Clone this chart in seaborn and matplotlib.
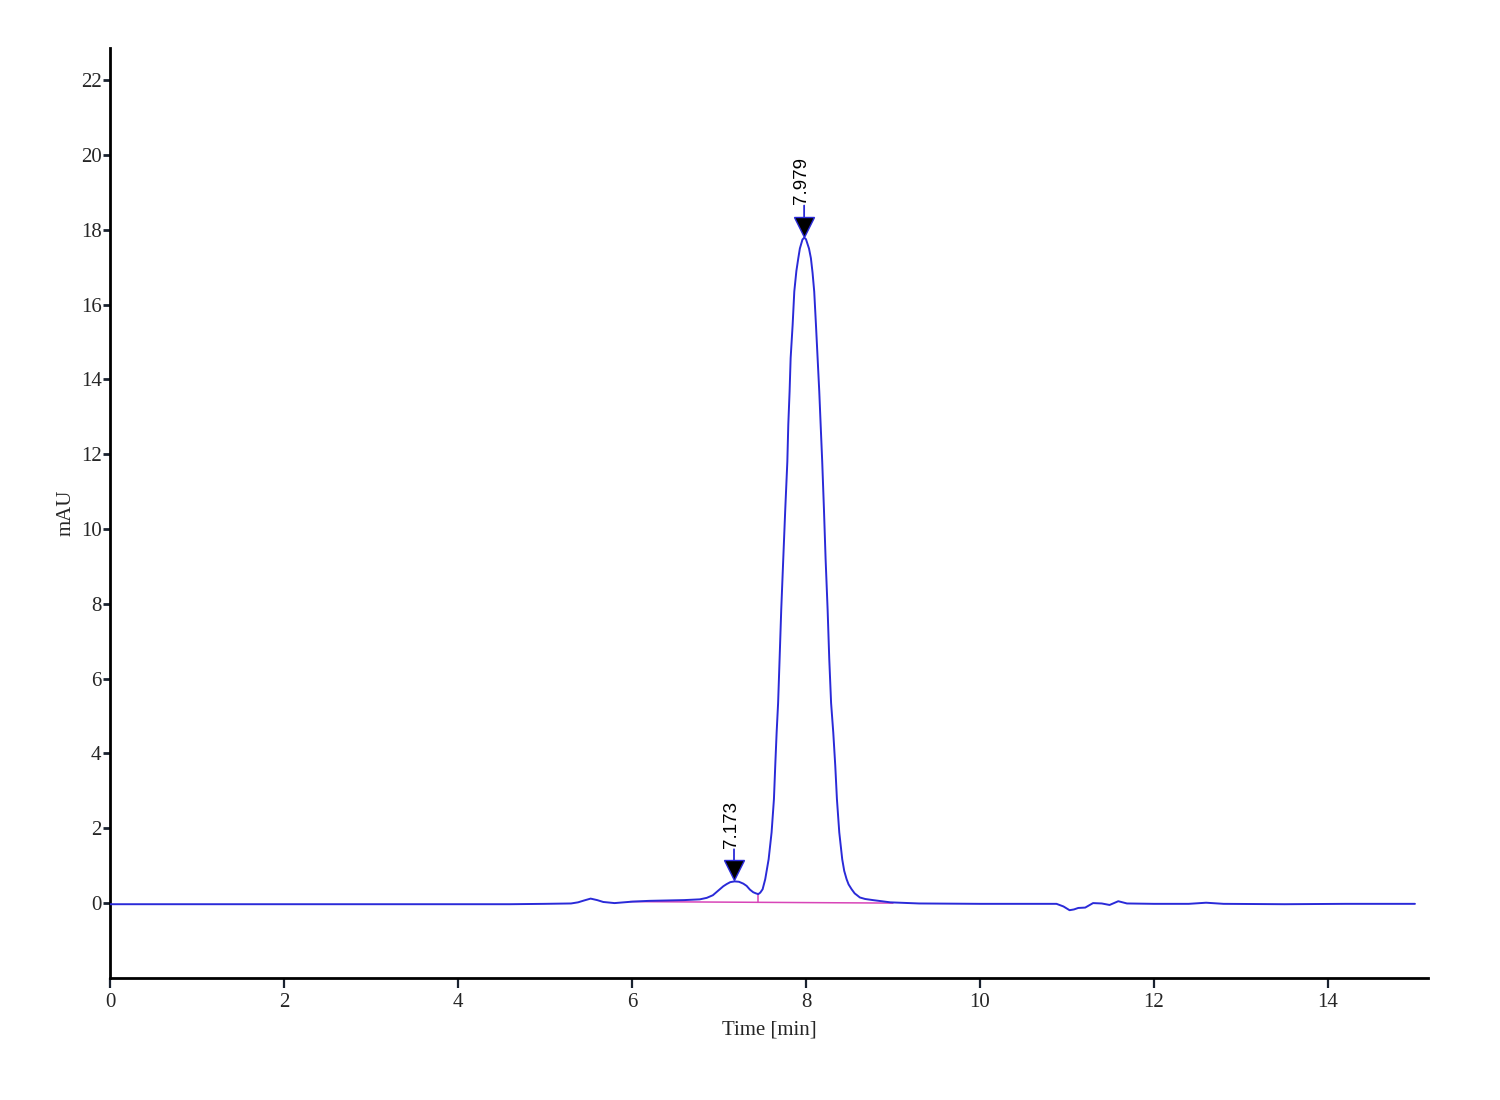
"""
HPLC chromatogram (mAU vs Time [min]) redraw
"""

import numpy as np
import matplotlib
matplotlib.use("Agg")
import matplotlib.pyplot as plt
import matplotlib.transforms as mtransforms
import seaborn as sns


# 크로마토그램 데이터
time_min = [
    0.0, 1.0, 2.0, 3.0, 4.0, 4.6, 5.0, 5.3, 5.38, 5.45, 5.525, 5.6, 5.67, 5.8,
    6.01, 6.2, 6.4, 6.6, 6.78, 6.86, 6.93, 6.97, 7.01, 7.05, 7.09, 7.13, 7.18,
    7.23, 7.28, 7.318, 7.356, 7.394, 7.425, 7.452, 7.475, 7.502, 7.532, 7.571,
    7.605, 7.632, 7.647, 7.663, 7.68, 7.697, 7.716, 7.739, 7.762, 7.786, 7.797,
    7.812, 7.824, 7.847, 7.866, 7.89, 7.912, 7.93, 7.96, 7.98, 8.0, 8.035, 8.057,
    8.076, 8.095, 8.115, 8.134, 8.153, 8.169, 8.187, 8.207, 8.226, 8.249, 8.268,
    8.289, 8.314, 8.337, 8.356, 8.383, 8.417, 8.44, 8.467, 8.49, 8.525, 8.56,
    8.62, 8.68, 8.77, 8.97, 9.3, 10.0, 10.5, 10.88, 10.96, 11.03, 11.08, 11.13,
    11.21, 11.30, 11.40, 11.49, 11.59, 11.69, 12.0, 12.4, 12.6, 12.8, 13.5,
    14.2, 15.0,
]
signal_mau = [
    -0.03, -0.03, -0.03, -0.03, -0.03, -0.03, -0.02, -0.01, 0.02, 0.07, 0.12, 0.08, 0.03, 0.0,
    0.04, 0.06, 0.07, 0.08, 0.10, 0.14, 0.21, 0.29, 0.37, 0.45, 0.51, 0.56, 0.58,
    0.57, 0.52, 0.46, 0.36, 0.29, 0.26, 0.24, 0.28, 0.37, 0.64, 1.17,
    1.89, 2.78, 3.67, 4.56, 5.35, 6.52, 7.85, 9.19, 10.52, 11.80, 12.79,
    13.68, 14.57, 15.46, 16.35, 16.90, 17.24, 17.50, 17.74, 17.79, 17.75, 17.50, 17.24,
    16.85, 16.35, 15.46, 14.57, 13.68, 12.79, 11.80, 10.52, 9.19, 7.85, 6.52,
    5.35, 4.56, 3.67, 2.78, 1.89, 1.17, 0.86, 0.64, 0.50, 0.37, 0.26,
    0.15, 0.11, 0.08, 0.02, -0.01, -0.02, -0.02, -0.02, -0.09, -0.19, -0.17, -0.13,
    -0.12, 0.0, -0.01, -0.05, 0.05, -0.01, -0.02, -0.02, 0.01, -0.02, -0.03,
    -0.02, -0.02,
]

# 피크 정보
peak_rt = [7.173, 7.979]
peak_height = [0.58, 17.79]
peak_labels = ["7.173", "7.979"]

# 적분 베이스라인
baseline_t = [5.98, 9.0]
baseline_v = [0.04, 0.0]
drop_t = 7.452

x_ticks = [0, 2, 4, 6, 8, 10, 12, 14]
y_ticks = [0, 2, 4, 6, 8, 10, 12, 14, 16, 18, 20, 22]

sns.set_theme(style="white")
plt.rcParams["font.family"] = ["Liberation Serif", "DejaVu Serif"]

fig = plt.figure(figsize=(15, 11), dpi=100)
ax = fig.add_axes([0.0733, 0.111, 0.8787, 0.845])

trace_color = "#2a2ad8"
base_color = "#d845b8"

# 베이스라인 + drop line
ax.plot(baseline_t, baseline_v, color=base_color, lw=1.1, zorder=2)
drop_base = np.interp(drop_t, baseline_t, baseline_v)
drop_top = np.interp(drop_t, time_min, signal_mau)
ax.plot([drop_t, drop_t], [drop_base, drop_top], color=base_color, lw=1.1, zorder=2)

sns.lineplot(x=time_min, y=signal_mau, ax=ax, color=trace_color, lw=1.4,
             estimator=None, sort=False, zorder=3)

# 피크 마커 + 라벨
for rt, h, lab in zip(peak_rt, peak_height, peak_labels):
    tri = mtransforms.offset_copy(ax.transData, fig=fig, y=11, units="dots")
    ax.plot([rt], [h], marker="v", markersize=15, markerfacecolor="black",
            markeredgecolor=trace_color, markeredgewidth=1.0, transform=tri, zorder=4)
    stem0 = mtransforms.offset_copy(ax.transData, fig=fig, y=21, units="dots")
    ax.annotate("", xy=(rt, h), xycoords=stem0,
                xytext=(0, 8), textcoords="offset points",
                arrowprops=dict(arrowstyle="-", color=trace_color, lw=1.3,
                                shrinkA=0, shrinkB=0))
    ax.annotate(lab, xy=(rt, h), xytext=(-2, 24), textcoords="offset points",
                rotation=90, ha="center", va="bottom", fontsize=13.5,
                family=["Liberation Sans", "DejaVu Sans"], color="black")

ax.set_xlim(0, 15.15)
ax.set_ylim(-2, 22.85)
ax.set_xticks(x_ticks)
ax.set_yticks(y_ticks)
ax.set_xticklabels([str(v) for v in x_ticks], fontsize=15)
ax.set_yticklabels([str(v) for v in y_ticks], fontsize=15)
ax.set_xlabel("Time [min]", fontsize=15, labelpad=6)
ax.set_ylabel("mAU", fontsize=15, labelpad=4)

for side in ["top", "right"]:
    ax.spines[side].set_visible(False)
for side in ["left", "bottom"]:
    ax.spines[side].set_color("black")
    ax.spines[side].set_linewidth(2.0)
ax.tick_params(axis="y", left=True, direction="out", length=5, width=2.0,
               color="#1a2230", pad=1)
ax.tick_params(axis="x", bottom=True, direction="out", length=7, width=1.6,
               color="#1a2230", pad=4)
ax.set_facecolor("white")

fig.savefig("out.png", dpi=100, facecolor="white")
plt.close(fig)
